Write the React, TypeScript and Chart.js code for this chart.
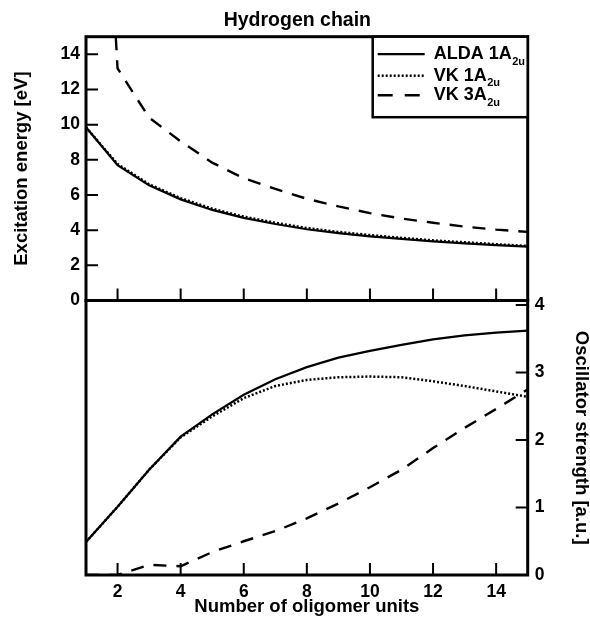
import React, { useEffect, useRef } from "react";
import { Chart, registerables } from "chart.js";

Chart.register(...registerables);

// ---------- data ----------
const oligomerUnits = [1, 2, 3, 4, 5, 6, 7, 8, 9, 10, 11, 12, 13, 14, 15];

// Excitation energy [eV] (top panel)
const energyAlda1A2u = [9.85, 7.7, 6.55, 5.75, 5.15, 4.7, 4.35, 4.05, 3.83, 3.65, 3.5, 3.36, 3.25, 3.15, 3.06];
const energyVk1A2u = [9.85, 7.76, 6.61, 5.82, 5.22, 4.77, 4.42, 4.12, 3.9, 3.72, 3.56, 3.42, 3.31, 3.2, 3.1];
const energyVk3A2u = [45, 13.2, 10.4, 9.05, 7.84, 6.95, 6.35, 5.78, 5.35, 4.97, 4.66, 4.42, 4.2, 4.03, 3.9];

// Oscillator strength [a.u.] (bottom panel)
const strengthAlda1A2u = [0.49, 1.01, 1.56, 2.05, 2.38, 2.67, 2.9, 3.08, 3.22, 3.32, 3.41, 3.49, 3.55, 3.59, 3.62];
const strengthVk1A2u = [0.49, 1.01, 1.56, 2.04, 2.35, 2.62, 2.8, 2.89, 2.93, 2.94, 2.93, 2.87, 2.8, 2.72, 2.64];
const strengthVk3A2u = [0, 0, 0.15, 0.13, 0.34, 0.5, 0.65, 0.84, 1.06, 1.3, 1.56, 1.88, 2.18, 2.46, 2.75];

const xTickValues = [2, 4, 6, 8, 10, 12, 14];
const energyTickValues = [0, 2, 4, 6, 8, 10, 12, 14];
const strengthTickValues = [0, 1, 2, 3, 4];

const seriesNames = ["ALDA 1A", "VK 1A", "VK 3A"];
const seriesSubscripts = ["2u", "2u", "2u"];

const chartTitle = "Hydrogen chain";
const energyAxisTitle = "Excitation energy [eV]";
const strengthAxisTitle = "Oscillator strength [a.u.]";
const xAxisTitle = "Number of oligomer units";

// ---------- styles ----------
const FONT = "'Liberation Sans', Arial, Helvetica, sans-serif";
const lineStyles = [
  { dash: [] as number[], width: 2.2 },
  { dash: [2, 2], width: 2.5 },
  { dash: [13, 10], width: 2.4 },
];

function makeDatasets(series: number[][]) {
  return series.map((vals, i) => ({
    label: seriesNames[i] + seriesSubscripts[i],
    data: oligomerUnits.map((x, j) => ({ x, y: vals[j] })),
    borderColor: "#000",
    backgroundColor: "#000",
    borderWidth: lineStyles[i].width,
    borderDash: lineStyles[i].dash,
    pointRadius: 0,
    fill: false,
    tension: 0,
  }));
}

function framePlugin(yTicks: number[], side: "left" | "right") {
  return {
    id: "frameTicks",
    afterDatasetsDraw(chart: any) {
      const { ctx, chartArea: a } = chart;
      const xs = chart.scales.x;
      const ys = chart.scales.y;
      ctx.save();
      ctx.strokeStyle = "#000";
      ctx.setLineDash([]);
      ctx.lineWidth = 2;
      ctx.beginPath();
      for (const v of xTickValues) {
        const px = xs.getPixelForValue(v);
        ctx.moveTo(px, a.bottom);
        ctx.lineTo(px, a.bottom - 12);
      }
      for (const v of yTicks) {
        const py = ys.getPixelForValue(v);
        if (side === "left") {
          ctx.moveTo(a.left, py);
          ctx.lineTo(a.left + 12, py);
        } else {
          ctx.moveTo(a.right, py);
          ctx.lineTo(a.right - 12, py);
        }
      }
      ctx.stroke();
      ctx.lineWidth = 3;
      ctx.strokeRect(a.left, a.top, a.right - a.left, a.bottom - a.top);
      ctx.restore();
    },
  };
}

const titlePlugin = {
  id: "panelTitle",
  afterDraw(chart: any) {
    const { ctx, chartArea: a } = chart;
    ctx.save();
    ctx.fillStyle = "#000";
    ctx.font = `bold 19.5px ${FONT}`;
    ctx.textAlign = "center";
    ctx.textBaseline = "middle";
    ctx.fillText(chartTitle, (a.left + a.right) / 2 - 9.5, a.top - 16);
    ctx.restore();
  },
};

const legendPlugin = {
  id: "customLegend",
  afterDraw(chart: any) {
    const { ctx, chartArea: a } = chart;
    const w = 155;
    const h = 80.5;
    const left = a.right - w;
    const top = a.top;
    ctx.save();
    ctx.fillStyle = "#fff";
    ctx.fillRect(left, top, w, h);
    ctx.strokeStyle = "#000";
    ctx.lineWidth = 2.5;
    ctx.setLineDash([]);
    ctx.strokeRect(left, top, w, h);
    const rows = [17.5, 39, 58.5];
    chart.data.datasets.forEach((ds: any, i: number) => {
      const y = top + rows[i];
      ctx.beginPath();
      ctx.lineWidth = ds.borderWidth;
      ctx.setLineDash(i === 2 ? [15, 12] : ds.borderDash);
      ctx.moveTo(left + 5, y);
      ctx.lineTo(left + 52, y);
      ctx.stroke();
      ctx.setLineDash([]);
      ctx.fillStyle = "#000";
      ctx.textAlign = "left";
      ctx.textBaseline = "middle";
      ctx.font = `bold 18px ${FONT}`;
      const main = seriesNames[i];
      ctx.fillText(main, left + 61, y);
      const mw = ctx.measureText(main).width;
      ctx.font = `bold 11px ${FONT}`;
      ctx.fillText(seriesSubscripts[i], left + 61 + mw + 0.5, y + 7.5);
    });
    ctx.restore();
  },
};

const tickFont = { family: FONT, size: 17.5, weight: "bold" as const };
const titleFont = { family: FONT, size: 18.5, weight: "bold" as const, lineHeight: 1 };

export default function App() {
  const topRef = useRef<HTMLCanvasElement>(null);
  const botRef = useRef<HTMLCanvasElement>(null);

  useEffect(() => {
    const top = new Chart(topRef.current as HTMLCanvasElement, {
      type: "line",
      data: { datasets: makeDatasets([energyAlda1A2u, energyVk1A2u, energyVk3A2u]) as any },
      options: {
        responsive: false,
        animation: false,
        devicePixelRatio: 1,
        layout: { padding: { top: 36.7, right: 62.3, bottom: 317.5, left: 0 } },
        plugins: { legend: { display: false }, tooltip: { enabled: false }, title: { display: false } },
        scales: {
          x: { type: "linear", min: 1, max: 15, display: false },
          y: {
            type: "linear",
            min: 0,
            max: 15,
            position: "left",
            afterFit: (s: any) => {
              s.width = 86;
            },
            afterBuildTicks: (s: any) => {
              s.ticks = energyTickValues.map((v) => ({ value: v }));
            },
            grid: { display: false, drawTicks: false },
            border: { display: false },
            ticks: { color: "#000", font: tickFont, padding: 6 },
            title: {
              display: true,
              text: energyAxisTitle,
              color: "#000",
              font: titleFont,
              padding: { top: 13, bottom: 0 },
            },
          },
        },
      } as any,
      plugins: [framePlugin(energyTickValues, "left"), titlePlugin, legendPlugin],
    });

    const bot = new Chart(botRef.current as HTMLCanvasElement, {
      type: "line",
      data: { datasets: makeDatasets([strengthAlda1A2u, strengthVk1A2u, strengthVk3A2u]) as any },
      options: {
        responsive: false,
        animation: false,
        devicePixelRatio: 1,
        layout: { padding: { top: 300.5, right: 0, bottom: 0, left: 86 } },
        plugins: { legend: { display: false }, tooltip: { enabled: false }, title: { display: false } },
        scales: {
          x: {
            type: "linear",
            min: 1,
            max: 15,
            position: "bottom",
            afterFit: (s: any) => {
              s.height = 43;
            },
            afterBuildTicks: (s: any) => {
              s.ticks = xTickValues.map((v) => ({ value: v }));
            },
            grid: { display: false, drawTicks: false },
            border: { display: false },
            ticks: { color: "#000", font: tickFont, padding: 7, maxRotation: 0, autoSkip: false },
            title: {
              display: true,
              text: xAxisTitle,
              color: "#000",
              font: titleFont,
              padding: { top: 0, bottom: 2 },
            },
          },
          y: {
            type: "linear",
            min: 0,
            max: 4.067,
            position: "right",
            afterFit: (s: any) => {
              s.width = 62.3;
            },
            afterBuildTicks: (s: any) => {
              s.ticks = strengthTickValues.map((v) => ({ value: v }));
            },
            grid: { display: false, drawTicks: false },
            border: { display: false },
            ticks: { color: "#000", font: tickFont, padding: 7 },
            title: {
              display: true,
              text: strengthAxisTitle,
              color: "#000",
              font: titleFont,
              padding: { top: 0, bottom: 0 },
            },
          },
        },
      } as any,
      plugins: [framePlugin(strengthTickValues, "right")],
    });

    return () => {
      top.destroy();
      bot.destroy();
    };
  }, []);

  return (
    <div style={{ position: "fixed", left: 0, top: 0, width: 590, height: 618, background: "#fff" }}>
      <canvas ref={botRef} width={590} height={618} style={{ position: "absolute", left: 0, top: 0 }} />
      <canvas ref={topRef} width={590} height={618} style={{ position: "absolute", left: 0, top: 0 }} />
    </div>
  );
}
